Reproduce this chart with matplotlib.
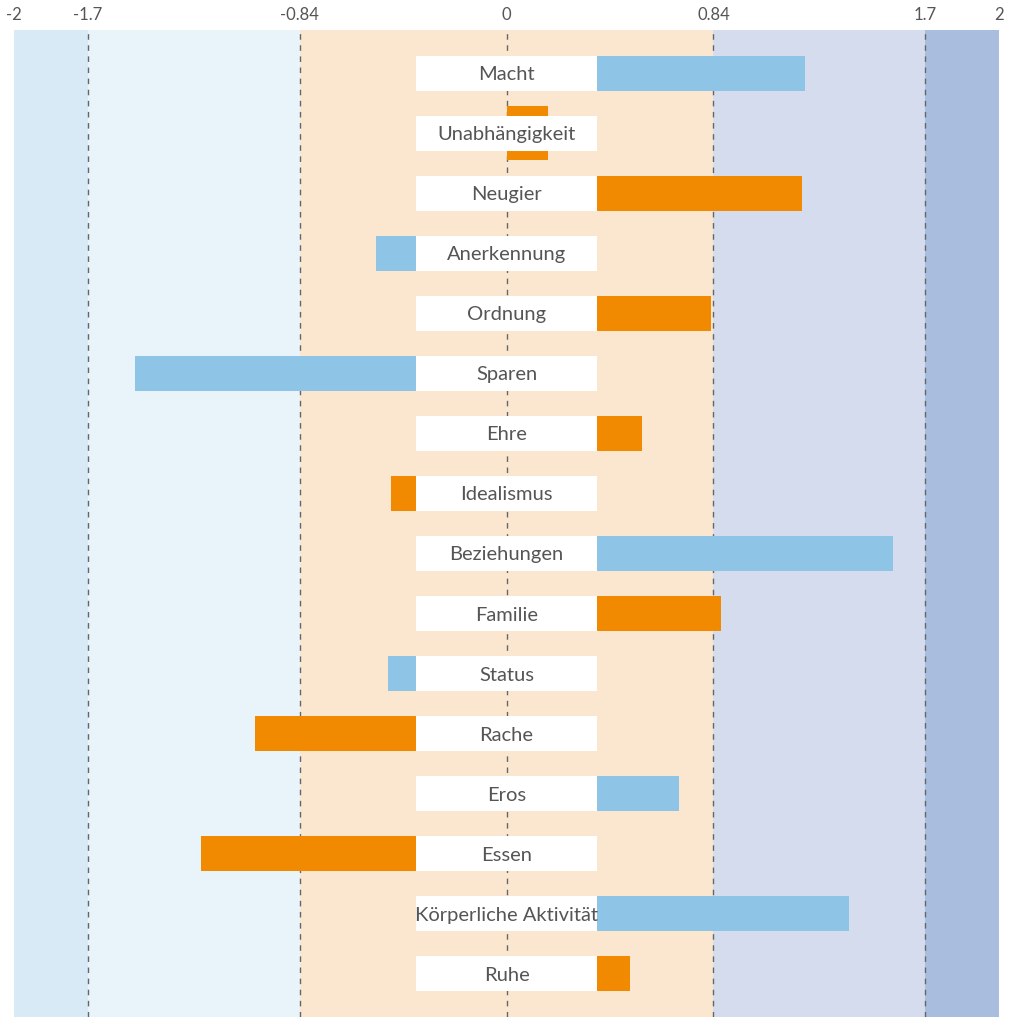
import matplotlib.pyplot as plt
from matplotlib.patches import Rectangle

plt.rcParams['font.family'] = ['Lato', 'DejaVu Sans']

labels = ['Macht', 'Unabhängigkeit', 'Neugier', 'Anerkennung', 'Ordnung', 'Sparen',
          'Ehre', 'Idealismus', 'Beziehungen', 'Familie', 'Status', 'Rache', 'Eros',
          'Essen', 'Körperliche Aktivität', 'Ruhe']
values = [1.21, 0.17, 1.20, -0.53, 0.83, -1.51, 0.55, -0.47, 1.57, 0.87, -0.48,
          -1.02, 0.70, -1.24, 1.39, 0.50]
groups = ['b', 'o', 'o', 'b', 'o', 'b', 'o', 'o', 'b', 'o', 'b', 'o', 'b', 'o', 'b', 'o']

band_edges = [-2, -1.7, -0.84, 0.84, 1.7, 2]
band_colors = ['#d8eaf5', '#e9f3fa', '#fbe7d0', '#d4dcee', '#a9bedf']
ticks = [-2, -1.7, -0.84, 0, 0.84, 1.7, 2]
tick_labels = ['-2', '-1.7', '-0.84', '0', '0.84', '1.7', '2']
dashed = [-1.7, -0.84, 0, 0.84, 1.7]

COLORS = {'b': '#8ec5e6', 'o': '#f18a00'}
BOX = 0.368      # half width of the label box
H = 0.58         # bar height

fig = plt.figure(figsize=(10.13, 10.24), dpi=100)
ax = fig.add_axes([0.0138, 0.0068, 0.9725, 0.964])

n = len(labels)
ax.set_xlim(-2, 2)
ax.set_ylim(n - 1 + 0.72, -0.72)

for i in range(len(band_colors)):
    ax.axvspan(band_edges[i], band_edges[i + 1], color=band_colors[i], lw=0, zorder=0)
for x in dashed:
    ax.axvline(x, color='#666666', lw=1, ls=(0, (4, 4)), zorder=1)

for i, (lab, v, g) in enumerate(zip(labels, values, groups)):
    h = H if abs(v) > BOX else H * 1.55
    ax.barh(i, v, height=h, color=COLORS[g], zorder=2)
    ax.add_patch(Rectangle((-BOX, i - H / 2), 2 * BOX, H, facecolor='white',
                           edgecolor='none', zorder=3))
    ax.text(0, i, lab, ha='center', va='center_baseline', fontsize=14.5,
            color='#555555', zorder=4)

ax.set_yticks([])
ax.xaxis.tick_top()
ax.set_xticks(ticks, tick_labels, fontsize=12, color='#555555')
ax.tick_params(axis='x', length=0, pad=5)
for s in ax.spines.values():
    s.set_visible(False)

fig.savefig('out.png', dpi=100, facecolor='white')
